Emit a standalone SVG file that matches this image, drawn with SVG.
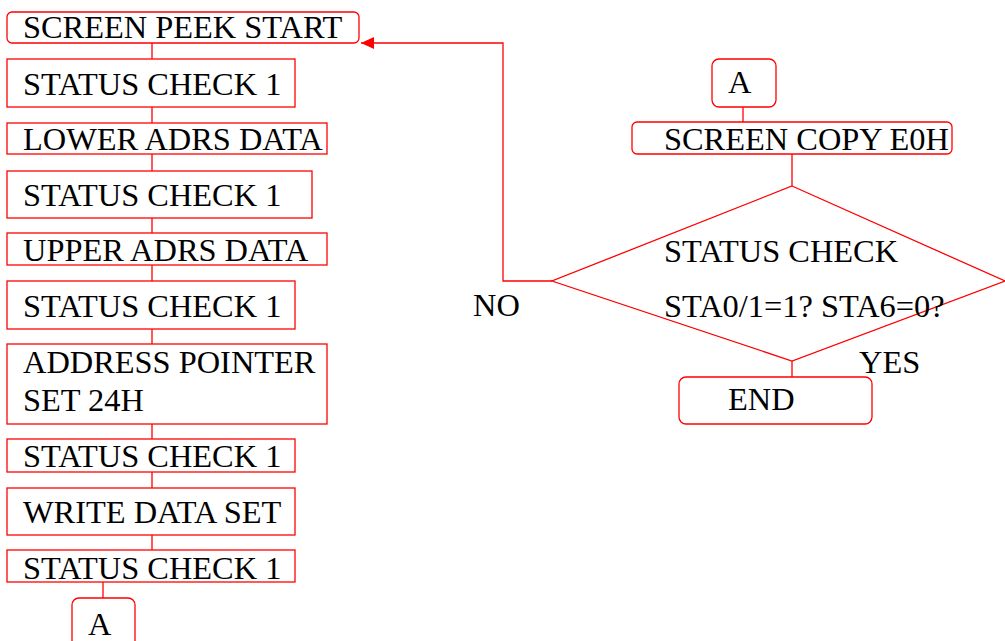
<svg xmlns="http://www.w3.org/2000/svg" width="1005" height="641" viewBox="0 0 1005 641">
<style>
.b{fill:#fff;stroke:#ff0000;stroke-width:1.3}
.c{fill:none;stroke:#ff0000;stroke-width:1.3}
text{font-family:"Liberation Serif","Times New Roman",serif;font-size:32.4px;fill:#000}
</style>
<defs>
<marker id="ah" markerWidth="14" markerHeight="12" refX="13" refY="6" orient="auto" markerUnits="userSpaceOnUse">
<path d="M0,0 L13,6 L0,12 Z" fill="#ff0000"/>
</marker>
</defs>
<rect width="1005" height="641" fill="#fff"/>
<g id="connectors">
<line class="c" x1="152" y1="43" x2="152" y2="59"/>
<line class="c" x1="152" y1="107" x2="152" y2="123"/>
<line class="c" x1="152" y1="154" x2="152" y2="171"/>
<line class="c" x1="152" y1="218" x2="152" y2="233"/>
<line class="c" x1="152" y1="265" x2="152" y2="281"/>
<line class="c" x1="152" y1="329" x2="152" y2="344"/>
<line class="c" x1="152" y1="424" x2="152" y2="439"/>
<line class="c" x1="152" y1="472" x2="152" y2="488"/>
<line class="c" x1="152" y1="535" x2="152" y2="550"/>
<line class="c" x1="103" y1="582" x2="103" y2="598"/>
<line class="c" x1="743" y1="107" x2="743" y2="122"/>
<line class="c" x1="792" y1="154" x2="792" y2="186"/>
<line class="c" x1="792" y1="361" x2="792" y2="377"/>
<polyline class="c" points="552,281 503,281 503,43 361,43" marker-end="url(#ah)"/>
<text x="473" y="316">NO</text>
<text x="859" y="373">YES</text>
</g>
<g id="n1"><rect class="b" x="7" y="12" width="352" height="31" rx="5"/><text x="23" y="38">SCREEN PEEK START</text></g>
<g id="n2"><rect class="b" x="7" y="59" width="288" height="48"/><text x="23" y="95">STATUS CHECK 1</text></g>
<g id="n3"><rect class="b" x="7" y="123" width="320" height="31"/><text x="23" y="150">LOWER ADRS DATA</text></g>
<g id="n4"><rect class="b" x="7" y="171" width="305" height="47"/><text x="23" y="206">STATUS CHECK 1</text></g>
<g id="n5"><rect class="b" x="7" y="233" width="320" height="32"/><text x="23" y="261">UPPER ADRS DATA</text></g>
<g id="n6"><rect class="b" x="7" y="281" width="288" height="48"/><text x="23" y="317">STATUS CHECK 1</text></g>
<g id="n7"><rect class="b" x="7" y="344" width="320" height="80"/><text x="23" y="373">ADDRESS POINTER</text><text x="23" y="411">SET 24H</text></g>
<g id="n8"><rect class="b" x="7" y="439" width="288" height="33"/><text x="23" y="467">STATUS CHECK 1</text></g>
<g id="n9"><rect class="b" x="7" y="488" width="288" height="47"/><text x="23" y="523">WRITE DATA SET</text></g>
<g id="n10"><rect class="b" x="7" y="550" width="288" height="32"/><text x="23" y="579">STATUS CHECK 1</text></g>
<g id="n11"><rect class="b" x="72" y="598" width="63" height="60" rx="7"/><text x="88" y="635">A</text></g>
<g id="n12"><rect class="b" x="712" y="59" width="64" height="48" rx="7"/><text x="728" y="93">A</text></g>
<g id="n13"><rect class="b" x="632" y="122" width="320" height="32" rx="5"/><text x="664" y="150">SCREEN COPY E0H</text></g>
<g id="n14"><polygon class="b" style="fill:none" points="792,186 1005,281 792,361 552,281"/><text x="664" y="262">STATUS CHECK</text><text x="664" y="317">STA0/1=1? STA6=0?</text></g>
<g id="n15"><rect class="b" x="679" y="377" width="193" height="47" rx="7"/><text x="728" y="410">END</text></g>
</svg>
